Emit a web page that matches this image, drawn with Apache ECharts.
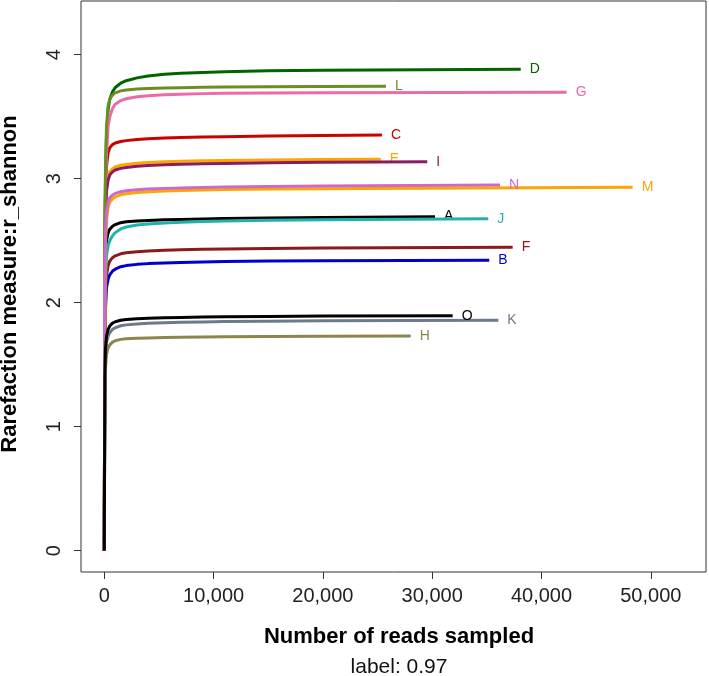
<!DOCTYPE html>
<html>
<head>
<meta charset="utf-8">
<script src="https://cdn.jsdelivr.net/npm/echarts@6/dist/echarts.min.js"></script>
<style>
html,body{margin:0;padding:0;background:#fff;}
#chart{width:709px;height:676px;}
</style>
</head>
<body>
<div id="chart"></div>
<script>
// Sample names (drawing order)
const sampleNames = ['A','B','C','D','E','F','G','H','I','J','K','L','M','N','O'];
// Common sampling depths (reads) at which the curves were read
const depths = [0, 50, 100, 200, 350, 500, 750, 1000, 1500, 2000, 3000, 4000, 5500, 7000, 9000, 11000, 15000, 20000];
// Final sampling depth of each sample
const endDepths = [30260, 35220, 25400, 38100, 25300, 37360, 42300, 28030, 29550, 35130, 36050, 25770, 48340, 36200, 31870];
// r_shannon values at depths[] followed by the value at the end depth
const valuesA = [0, 2.00, 2.32, 2.50, 2.565, 2.593, 2.617, 2.630, 2.645, 2.652, 2.659, 2.663, 2.668, 2.671, 2.675, 2.678, 2.682, 2.686, 2.694];
const valuesB = [0, 1.65, 1.93, 2.12, 2.19, 2.225, 2.255, 2.270, 2.290, 2.299, 2.309, 2.315, 2.321, 2.325, 2.329, 2.332, 2.336, 2.339, 2.342];
const valuesC = [0, 2.40, 2.85, 3.10, 3.21, 3.25, 3.275, 3.288, 3.300, 3.307, 3.316, 3.322, 3.328, 3.332, 3.336, 3.339, 3.344, 3.348, 3.352];
const valuesD = [0, 2.40, 2.95, 3.35, 3.56, 3.64, 3.70, 3.735, 3.770, 3.790, 3.813, 3.828, 3.842, 3.850, 3.857, 3.863, 3.870, 3.874, 3.882];
const valuesE = [0, 2.30, 2.70, 2.93, 3.02, 3.055, 3.08, 3.095, 3.108, 3.115, 3.124, 3.130, 3.136, 3.140, 3.144, 3.147, 3.151, 3.154, 3.156];
const valuesF = [0, 1.75, 2.05, 2.22, 2.30, 2.335, 2.363, 2.378, 2.394, 2.402, 2.411, 2.416, 2.422, 2.426, 2.430, 2.433, 2.437, 2.440, 2.447];
const valuesG = [0, 2.30, 2.80, 3.20, 3.42, 3.50, 3.565, 3.60, 3.630, 3.645, 3.660, 3.668, 3.676, 3.681, 3.686, 3.689, 3.692, 3.694, 3.697];
const valuesH = [0, 1.25, 1.46, 1.58, 1.635, 1.66, 1.682, 1.693, 1.704, 1.709, 1.714, 1.716, 1.719, 1.721, 1.723, 1.725, 1.727, 1.729, 1.731];
const valuesI = [0, 2.28, 2.66, 2.90, 2.99, 3.03, 3.055, 3.07, 3.083, 3.091, 3.100, 3.106, 3.112, 3.116, 3.120, 3.123, 3.128, 3.132, 3.137];
const valuesJ = [0, 1.85, 2.15, 2.38, 2.46, 2.50, 2.54, 2.565, 2.595, 2.610, 2.626, 2.635, 2.643, 2.648, 2.654, 2.658, 2.664, 2.668, 2.677];
const valuesK = [0, 1.35, 1.56, 1.68, 1.73, 1.758, 1.785, 1.798, 1.814, 1.821, 1.829, 1.834, 1.839, 1.842, 1.845, 1.848, 1.851, 1.854, 1.858];
const valuesL = [0, 2.50, 3.05, 3.42, 3.59, 3.64, 3.675, 3.692, 3.708, 3.716, 3.723, 3.727, 3.731, 3.734, 3.737, 3.739, 3.742, 3.744, 3.745];
const valuesM = [0, 2.10, 2.45, 2.67, 2.77, 2.81, 2.838, 2.853, 2.870, 2.879, 2.889, 2.895, 2.901, 2.905, 2.909, 2.912, 2.916, 2.919, 2.931];
const valuesN = [0, 2.15, 2.50, 2.72, 2.81, 2.845, 2.868, 2.881, 2.895, 2.903, 2.911, 2.916, 2.921, 2.925, 2.929, 2.932, 2.937, 2.941, 2.949];
const valuesO = [0, 1.40, 1.62, 1.73, 1.785, 1.812, 1.835, 1.846, 1.858, 1.864, 1.870, 1.874, 1.878, 1.881, 1.884, 1.886, 1.889, 1.892, 1.895];
const allValues = [valuesA, valuesB, valuesC, valuesD, valuesE, valuesF, valuesG, valuesH, valuesI, valuesJ, valuesK, valuesL, valuesM, valuesN, valuesO];
// Tick labels
const xTicks = [0, 10000, 20000, 30000, 40000, 50000];
const yTicks = [0, 1, 2, 3, 4];

const colors = ['#000000','#0000CD','#CD0000','#006400','#FFA500','#8B1A1A','#EE6AA7','#8B864E','#8B1C62','#20B2AA','#6C7B8B','#6B8E23','#FFA500','#CD69C9','#000000'];

const FONT = 'Liberation Sans, Arial, Helvetica, sans-serif';

const series = sampleNames.map((name, i) => {
  const vals = allValues[i];
  const data = depths.map((d, j) => [d, vals[j]]);
  data.push([endDepths[i], vals[vals.length - 1]]);
  return {
    name: name,
    type: 'line',
    data: data,
    showSymbol: false,
    symbol: 'none',
    smooth: false,
    lineStyle: { color: colors[i], width: 3, join: 'round', cap: 'butt' },
    itemStyle: { color: colors[i] },
    endLabel: {
      show: true,
      formatter: '{a}',
      color: colors[i],
      fontSize: 14,
      fontFamily: FONT,
      distance: 9
    },
    emphasis: { disabled: true },
    z: 2 + i
  };
});

const chart = echarts.init(document.getElementById('chart'), null, { renderer: 'canvas' });
chart.setOption({
  animation: false,
  backgroundColor: '#ffffff',
  grid: {
    left: 81, right: 3, top: 1, bottom: 104,
    show: true, borderColor: '#333', borderWidth: 1, backgroundColor: 'transparent'
  },
  xAxis: {
    type: 'value',
    min: -2132,
    max: 55050,
    axisLine: { show: false, onZero: false },
    splitLine: { show: false },
    axisTick: { show: true, length: 7, customValues: xTicks, lineStyle: { color: '#333' } },
    axisLabel: {
      customValues: xTicks,
      margin: 14,
      fontSize: 20,
      color: '#222',
      fontFamily: FONT,
      formatter: v => v.toLocaleString('en-US')
    }
  },
  yAxis: {
    type: 'value',
    min: -0.172,
    max: 4.433,
    axisLine: { show: false, onZero: false },
    splitLine: { show: false },
    axisTick: { show: true, length: 7, customValues: yTicks, lineStyle: { color: '#333' } },
    axisLabel: {
      customValues: yTicks,
      rotate: 90,
      margin: 17,
      fontSize: 20,
      color: '#222',
      fontFamily: FONT
    }
  },
  graphic: [
    {
      type: 'text', x: 399, y: 637,
      style: { text: 'Number of reads sampled', font: 'bold 22px ' + FONT, fill: '#000', textAlign: 'center', textVerticalAlign: 'middle' }
    },
    {
      type: 'text', x: 399, y: 667,
      style: { text: 'label: 0.97', font: '21px ' + FONT, fill: '#111', textAlign: 'center', textVerticalAlign: 'middle' }
    },
    {
      type: 'text', x: 10, y: 284, rotation: Math.PI / 2,
      style: { text: 'Rarefaction measure:r_shannon', font: 'bold 22px ' + FONT, fill: '#000', textAlign: 'center', textVerticalAlign: 'middle' }
    }
  ],
  series: series
});
</script>
</body>
</html>
